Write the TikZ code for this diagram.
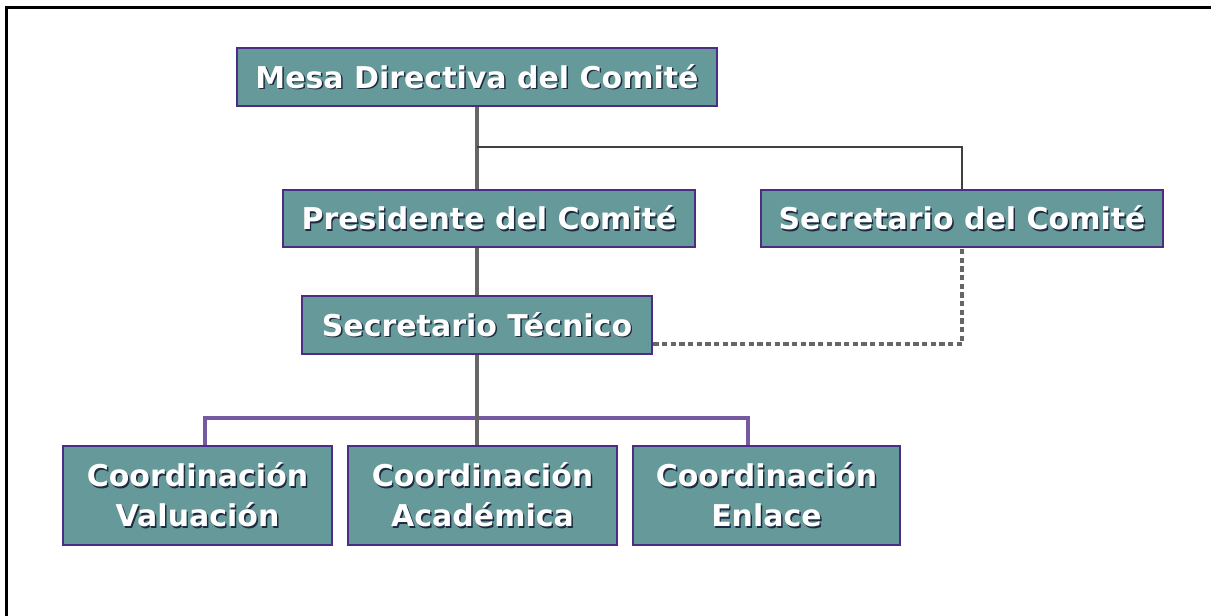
\documentclass[tikz,border=0pt]{standalone}
\usepackage{fontspec}
\setmainfont{DejaVu Sans}
\definecolor{boxfill}{HTML}{669999}
\definecolor{boxline}{HTML}{4B2D83}
\definecolor{purpleline}{HTML}{7559A3}
\definecolor{grayline}{HTML}{666666}
\definecolor{txtshadow}{HTML}{1E2A40}
% white text with a small dark shadow
\newcommand{\shd}[1]{\rlap{\kern1.1pt\raisebox{-1.1pt}{\color{txtshadow}#1}}#1}
\begin{document}
\begin{tikzpicture}[x=0.75pt,y=-0.75pt,
    unit/.style={draw=boxline,line width=2pt,fill=boxfill,text=white,
        font=\fontsize{22.5}{30}\selectfont\bfseries,inner sep=0pt,align=center},
    gline/.style={draw=grayline,line width=3pt},
    pline/.style={draw=purpleline,line width=3pt}]
        \useasboundingbox (0,0) rectangle (1211,616);
        %frame
        \draw[line width=2pt,black] (6.5,616) -- (6.5,7.5) -- (1211,7.5);

        %connectors
        \coordinate (j1) at (477,147);
        \coordinate (dv) at (205,418);
        \coordinate (de) at (748,418);

        %boxes
        \node (mesa) at (477,77) [unit,minimum width=360pt,minimum height=43.5pt] {\shd{Mesa Directiva del Comité}};
        \node (pres) at (489,218.5) [unit,minimum width=309pt,minimum height=42.75pt] {\shd{Presidente del Comité}};
        \node (secc) at (962,218.5) [unit,minimum width=301.5pt,minimum height=42.75pt] {\shd{Secretario del Comité}};
        \node (tec) at (477,325) [unit,minimum width=262.5pt,minimum height=43.5pt] {\shd{Secretario Técnico}};

        \node (val) at (197.5,495.5) [unit,minimum width=201.75pt,minimum height=74.25pt] {\shd{Coordinación}\\\shd{Valuación}};
        \node (aca) at (482.5,495.5) [unit,minimum width=201.75pt,minimum height=74.25pt] {\shd{Coordinación}\\\shd{Académica}};
        \node (enl) at (766.5,495.5) [unit,minimum width=200.25pt,minimum height=74.25pt] {\shd{Coordinación}\\\shd{Enlace}};

        \draw[pline] (dv |- val.north) -- (dv) -- (de) -- (de |- enl.north);
        \draw[gline] (mesa.south -| j1) -- (j1 |- pres.north);
        \draw[draw=black!75,line width=2pt] (j1) -| (secc.north);
        \draw[gline] (j1 |- pres.south) -- (tec.north);
        \draw[gline,dash pattern=on 4pt off 2.5pt] ([yshift=8.25pt]tec.south east) -| (secc.south);
        \draw[gline] (tec.south) -- (tec.south |- aca.north);
    \end{tikzpicture}
\end{document}
